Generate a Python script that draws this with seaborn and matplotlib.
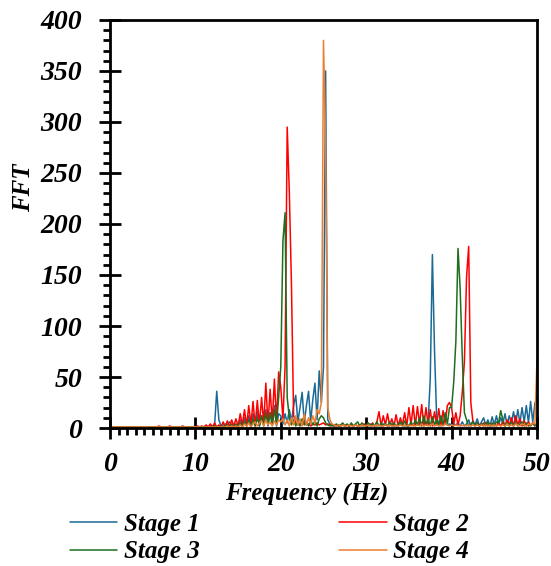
import numpy as np
import pandas as pd
import seaborn as sns
import matplotlib.pyplot as plt
from matplotlib.ticker import MultipleLocator

# frequency grid: 0 .. 50 Hz in 0.25 Hz steps (201 points), one row = 5 Hz
freq = np.arange(201) * 0.25

stage1 = [
    1, 1, 1, 1, 1, 1, 1, 1, 1, 1, 1, 1, 1, 1, 1, 1, 1, 1, 1, 1,            # 0-5
    1, 1, 1, 1, 1, 1, 1, 1, 1, 1, 1, 1, 1, 1, 1, 1, 1, 1, 1, 1,            # 5-10
    1, 1, 1, 1, 1, 1.5, 1, 2, 1.5, 3, 36, 8, 2, 3, 4, 3, 6, 3, 4, 2,       # 10-15
    3, 8, 2, 10, 3, 12, 2, 14, 3, 16, 2, 12, 3, 18, 2, 15, 3, 22, 2, 14,   # 15-20
    12, 4, 14, 5, 18, 6, 22, 32, 6, 20, 35, 5, 22, 36, 6, 28, 44, 8, 56, 25,  # 20-25
    60, 350, 8, 4, 3, 2, 3, 2, 2, 3, 2, 3, 2, 4, 2, 3, 2, 3, 2, 3,         # 25-30
    3, 2, 4, 2, 3, 2, 3, 2, 4, 3, 2, 3, 4, 2, 3, 2, 4, 3, 2, 3,            # 30-35
    3, 4, 3, 5, 4, 3, 5, 4, 6, 5, 48, 170, 76, 10, 5, 4, 3, 4, 3, 4,       # 35-40
    3, 4, 3, 5, 2, 6, 2, 4, 8, 2, 7, 3, 9, 2, 6, 10, 3, 8, 2, 11,          # 40-45
    3, 12, 3, 10, 4, 14, 3, 12, 5, 16, 4, 18, 5, 20, 6, 22, 5, 26, 6, 24,  # 45-50
    30,
]

stage2 = [
    1, 1, 1, 1, 1, 1, 1, 1, 1, 1, 1, 1, 1, 1, 1, 1, 1, 1, 1, 1,
    1, 1, 1, 2, 1, 1, 1, 1, 2, 1, 1, 1, 1, 1, 2, 1, 1, 1, 1, 1,
    1, 2, 1, 2, 1, 3, 1, 4, 1, 5, 1, 3, 1, 6, 1, 7, 1, 8, 2, 9,
    2, 14, 3, 18, 2, 22, 3, 26, 2, 27, 3, 30, 4, 44, 3, 38, 5, 48, 6, 55,
    40, 8, 60, 295, 231, 140, 12, 5, 3, 4, 3, 5, 3, 4, 2, 4, 3, 5, 3, 4,
    5, 3, 4, 3, 2, 3, 2, 3, 2, 3, 2, 3, 2, 3, 2, 3, 2, 3, 3, 4,
    2, 4, 2, 5, 2, 6, 16, 2, 12, 3, 14, 2, 9, 2, 13, 2, 10, 3, 15, 2,
    20, 3, 22, 2, 21, 4, 23, 2, 20, 3, 18, 2, 16, 3, 19, 2, 17, 4, 22, 25,
    20, 4, 15, 3, 12, 35, 65, 148, 178, 25, 6, 2, 5, 2, 4, 2, 5, 2, 4, 2,
    4, 2, 5, 2, 6, 2, 8, 3, 10, 2, 12, 3, 9, 2, 7, 2, 6, 2, 5, 2,
    5,
]

stage3 = [
    1, 1, 1, 1, 1, 1, 1, 1, 1, 1, 1, 1, 1, 1, 1, 1, 1, 1, 1, 1,
    1, 1, 1, 1, 1, 1, 1, 1, 1, 1, 1, 1, 1, 1, 1, 1, 1, 1, 1, 1,
    1, 1, 1, 1, 1, 1, 1, 1, 1, 2, 1, 1, 2, 1, 2, 3, 1, 3, 1, 4,
    1, 5, 1, 6, 2, 8, 1, 9, 2, 10, 2, 12, 2, 14, 3, 15, 3, 18, 4, 30,
    60, 183, 211, 30, 10, 3, 8, 2, 7, 2, 9, 3, 6, 2, 8, 3, 7, 2, 9, 12,
    10, 5, 3, 2, 3, 2, 4, 2, 3, 5, 2, 4, 2, 5, 2, 4, 6, 2, 5, 2,
    3, 5, 2, 4, 2, 6, 2, 5, 2, 4, 2, 6, 2, 5, 2, 3, 6, 2, 7, 2,
    2, 6, 2, 8, 3, 10, 2, 12, 3, 9, 2, 11, 3, 8, 2, 12, 3, 15, 4, 20,
    20, 45, 85, 176, 137, 70, 15, 8, 2, 4, 6, 2, 5, 2, 3, 5, 2, 6, 2, 5,
    2, 6, 5, 17, 8, 2, 5, 2, 6, 2, 5, 2, 4, 6, 2, 5, 2, 3, 5, 2,
    4,
]

stage4 = [
    1, 1, 1, 1, 1, 1, 1, 1, 1, 1, 1, 1, 1, 1, 1, 1, 1, 1, 1, 1,
    1, 1, 1, 1, 1, 1, 1, 1, 1, 1, 1, 1, 1, 1, 1, 1, 1, 1, 1, 1,
    1, 1, 1, 1, 1, 1, 1, 1, 1, 1, 1, 1, 1, 1, 1, 2, 1, 2, 1, 2,
    1, 3, 1, 4, 2, 5, 1, 4, 6, 2, 5, 7, 2, 8, 3, 6, 2, 7, 3, 8,
    6, 9, 3, 8, 2, 10, 3, 12, 3, 9, 2, 14, 3, 10, 4, 12, 5, 18, 14, 25,
    380, 280, 20, 8, 4, 3, 2, 3, 2, 3, 2, 2, 3, 2, 2, 3, 2, 2, 3, 2,
    2, 3, 2, 2, 3, 2, 3, 2, 2, 3, 2, 3, 2, 2, 3, 2, 3, 2, 3, 2,
    3, 2, 3, 2, 3, 2, 4, 2, 3, 2, 3, 4, 2, 3, 2, 3, 2, 4, 3, 2,
    3, 2, 3, 2, 3, 2, 3, 2, 3, 2, 3, 2, 3, 2, 3, 2, 3, 2, 3, 2,
    3, 2, 3, 2, 3, 2, 4, 2, 3, 2, 4, 3, 2, 4, 3, 2, 4, 3, 5, 4,
    68,
]

stages = ['Stage 1', 'Stage 2', 'Stage 3', 'Stage 4']
colors = ['#1b6a96', '#ff0000', '#1e6e1e', '#ed7d31']

df = pd.concat([pd.DataFrame({'freq': freq, 'fft': vals, 'stage': name})
                for name, vals in zip(stages, [stage1, stage2, stage3, stage4])])

sns.set_style('ticks', {'axes.edgecolor': 'black', 'xtick.color': 'black',
                        'ytick.color': 'black', 'text.color': 'black',
                        'axes.labelcolor': 'black'})
plt.rcParams['font.family'] = ['Liberation Serif', 'DejaVu Serif']
plt.rcParams['font.weight'] = 'bold'
plt.rcParams['font.style'] = 'italic'

fig = plt.figure(figsize=(5.51, 5.66), dpi=100)
ax = fig.add_axes([0.1996, 0.2438, 0.775, 0.7209])
sns.lineplot(data=df, x='freq', y='fft', hue='stage', palette=colors,
             estimator=None, sort=False, linewidth=1.1, ax=ax)

ax.set_xlim(0, 50)
ax.set_ylim(0, 400)
ax.xaxis.set_major_locator(MultipleLocator(10))
ax.xaxis.set_minor_locator(MultipleLocator(1))
ax.yaxis.set_major_locator(MultipleLocator(50))
ax.yaxis.set_minor_locator(MultipleLocator(10))
ax.tick_params(which='major', direction='inout', length=16, width=2, labelsize=20)
ax.tick_params(axis='x', which='major', pad=9)
ax.tick_params(axis='y', which='major', pad=12)
ax.tick_params(which='minor', direction='out', length=5, width=2)
for sp in ax.spines.values():
    sp.set_linewidth(2)

ax.set_xlabel('Frequency (Hz)', fontsize=18, fontweight='bold', fontstyle='italic')
ax.set_ylabel('FFT', fontsize=18, fontweight='bold', fontstyle='italic')
ax.xaxis.set_label_coords(0.46, -0.135)
ax.yaxis.set_label_coords(-0.175, 0.59)

# legend below the plot, rows: Stage 1 / Stage 2, then Stage 3 / Stage 4
handles, labels = ax.get_legend_handles_labels()
ax.get_legend().remove()
order = [0, 2, 1, 3]
fig.legend([handles[i] for i in order], [labels[i] for i in order], ncol=2,
           loc='lower center', bbox_to_anchor=(0.489, -0.035),
           frameon=False, fontsize=18, handlelength=1.9, handletextpad=0.25,
           columnspacing=5.6, labelspacing=0.17)

fig.savefig('out.png', dpi=100)
